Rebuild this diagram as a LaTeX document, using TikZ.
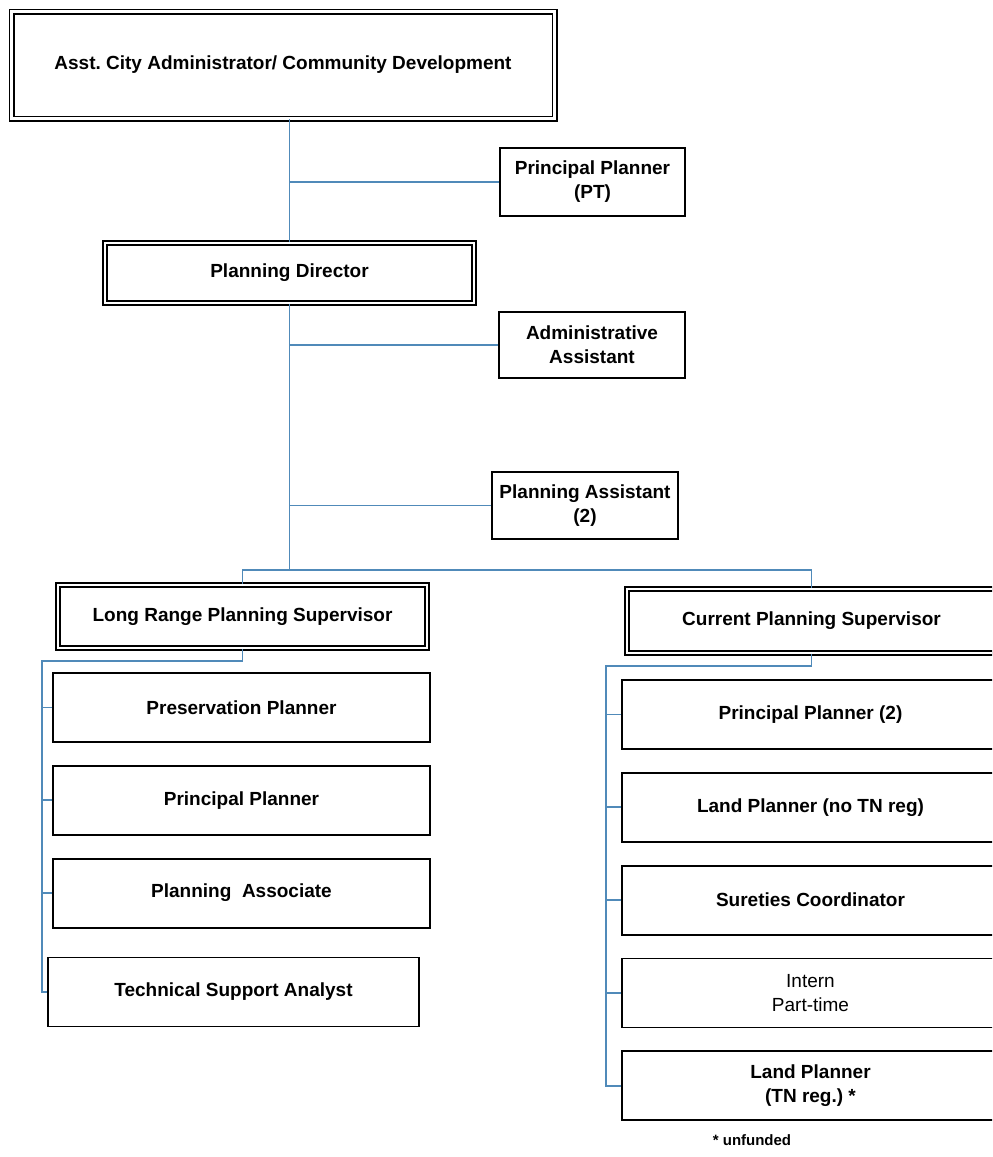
\documentclass[tikz,border=0pt]{standalone}
\usepackage{fontspec}
\setmainfont{Liberation Sans}
\usepackage{xcolor}
\usepackage{tikz}
\usetikzlibrary{positioning}
\definecolor{linkblue}{RGB}{80,138,185}
\frenchspacing

\begin{document}
\begin{tikzpicture}[x=0.5pt, y=-0.5pt, node distance=11pt,
			box/.style={draw, rectangle, line width=0.9pt, inner sep=0pt, align=center, font=\fontsize{9.5}{12}\selectfont\bfseries},
			dbox/.style={box, double, line width=0.85pt, double distance=1.3pt},
			colbox/.style={box, minimum width=188.5pt, minimum height=34.5pt},
			link/.style={draw=linkblue, line width=0.9pt}]
			
			\path[use as bounding box] (0,0) rectangle (992,1157);
			\clip (0,0) rectangle (992,1157);
			
			\node[dbox, minimum width=271.5pt, minimum height=53.5pt] (cityadmin) at (283,65) {Asst. City Administrator/ Community Development};
			\node[box, minimum width=92.5pt, minimum height=34pt] (ppt) at (592.5,182) {Principal Planner\\(PT)};
			\node[dbox, minimum width=184.5pt, minimum height=30pt] (director) at (289.5,273) {Planning Director};
			\node[box, minimum width=93pt, minimum height=33pt] (adminasst) at (592,345) {Administrative\\Assistant};
			\node[box, minimum width=93pt, minimum height=33.5pt] (planasst) at (585,505.5) {Planning Assistant\\(2)};
			\node[dbox, minimum width=184.5pt, minimum height=31.5pt] (longrange) at (242.5,616.5) {Long Range Planning Supervisor};
			\node[dbox, minimum width=184.5pt, minimum height=32pt] (current) at (811.5,621) {Current Planning Supervisor};
			
			\node[colbox] (preserv) at (241.5,707.5) {Preservation Planner};
			\node[colbox, below=of preserv] (princ) {Principal Planner};
			\node[colbox, below=of princ] (assoc) {Planning\ \ Associate};
			\node[colbox, minimum width=185.5pt, below=14pt of assoc, xshift=-4pt] (analyst) {Technical Support Analyst};
			
			\node[colbox] (princtwo) at (810.5,714.5) {Principal Planner (2)};
			\node[colbox, below=of princtwo] (landno) {Land Planner (no TN reg)};
			\node[colbox, below=of landno] (sureties) {Sureties Coordinator};
			\node[colbox, below=of sureties, font=\fontsize{9.5}{12}\selectfont] (intern) {Intern\\Part-time};
			\node[colbox, below=of intern] (landtn) {Land Planner\\(TN reg.) *};
			\node[font=\fontsize{7.5}{9}\selectfont\bfseries] (unfunded) at (752,1140) {* unfunded};
			
			\coordinate (split) at (289.5,570);
			\coordinate (lbus) at (42,661);
			\coordinate (rbus) at (606,666);
			
			\draw[link] (cityadmin.south -| director.north) -- (director.north);
			\draw[link] (ppt.west) -- (ppt.west -| director.north);
			\draw[link] (director.south) -- (split);
			\draw[link] (adminasst.west) -- (adminasst.west -| director.south);
			\draw[link] (planasst.west) -- (planasst.west -| director.south);
			\draw[link] (longrange.north) |- (split -| current.north) -- (current.north);
			
			\draw[link] (longrange.south) |- (lbus) |- (analyst.west);
			\foreach \n in {preserv, princ, assoc}
				\draw[link] (\n.west) -- (\n.west -| lbus);
			
			\draw[link] (current.south) |- (rbus) |- (landtn.west);
			\foreach \n in {princtwo, landno, sureties, intern}
				\draw[link] (\n.west) -- (\n.west -| rbus);
			
		\end{tikzpicture}
\end{document}
